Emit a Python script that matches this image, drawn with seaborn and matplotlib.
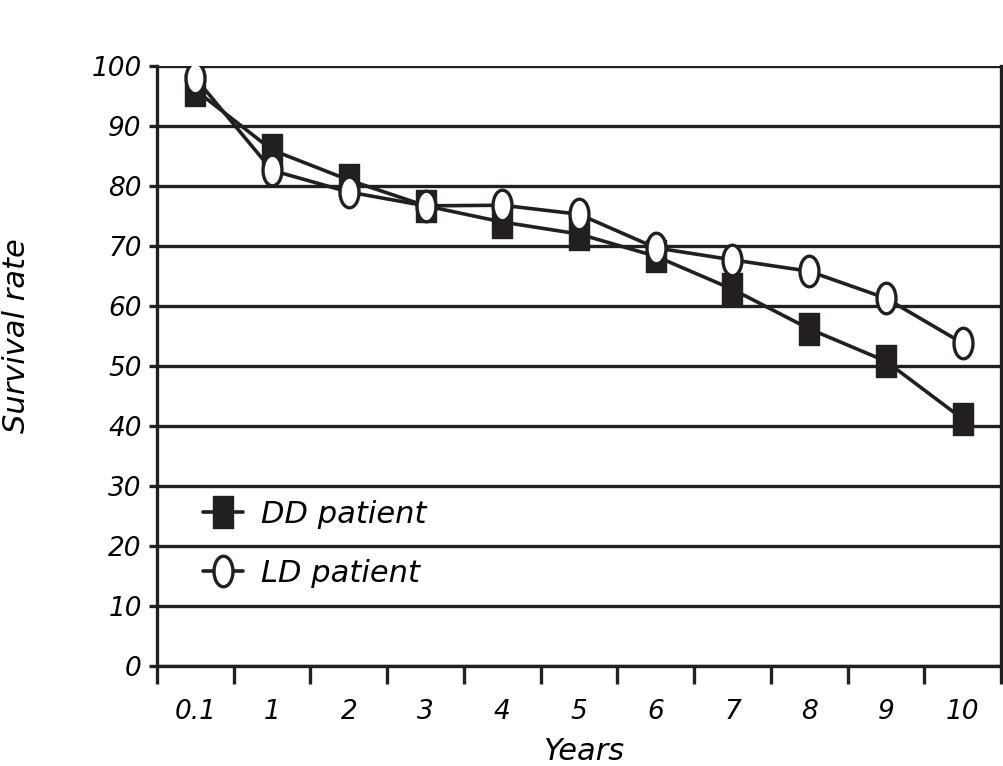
import numpy as np
import pandas as pd
import matplotlib
matplotlib.use("Agg")
import matplotlib.pyplot as plt
from matplotlib.path import Path
from matplotlib.transforms import Affine2D
import seaborn as sns

# survival data
years = ["0.1", "1", "2", "3", "4", "5", "6", "7", "8", "9", "10"]
dd_rate = [96, 86, 81, 76.7, 74, 72, 68.3, 62.8, 56.2, 50.8, 41.2]
ld_rate = [98, 82.6, 79, 76.7, 76.8, 75.3, 69.7, 67.7, 65.8, 61.3, 53.8]

ink = "#231f20"

sns.set_theme(style="white")
plt.rcParams["font.family"] = ["DejaVu Sans"]
plt.rcParams["font.style"] = "italic"
plt.rcParams["text.color"] = "black"
plt.rcParams["axes.labelcolor"] = "black"

# tall oval and tall rectangle markers
oval = Path.unit_circle().transformed(Affine2D().scale(0.62, 1.0))
rect = Path([(-0.62, -1), (0.62, -1), (0.62, 1), (-0.62, 1), (-0.62, -1)],
            [Path.MOVETO, Path.LINETO, Path.LINETO, Path.LINETO, Path.CLOSEPOLY])

df = pd.DataFrame({"year": years, "DD": dd_rate, "LD": ld_rate})

fig = plt.figure(figsize=(10.04, 7.66), dpi=100)
ax = fig.add_axes([0.1564, 0.1305, 0.8406, 0.7833])

sns.lineplot(data=df, x="year", y="DD", ax=ax, color=ink, lw=2.6,
             marker=rect, markersize=23, markerfacecolor=ink,
             markeredgecolor=ink, markeredgewidth=1, label="DD patient")
sns.lineplot(data=df, x="year", y="LD", ax=ax, color=ink, lw=2.6,
             marker=oval, markersize=22, markerfacecolor="white",
             markeredgecolor=ink, markeredgewidth=2.4, label="LD patient")

ax.set_ylim(0, 100)
ax.set_xlim(-0.5, len(years) - 0.5)
ax.set_yticks(np.arange(0, 101, 10))
ax.yaxis.grid(True, color=ink, lw=2.4)
ax.set_axisbelow(True)

# tick marks between categories, labels at the centres
ax.set_xticks(np.arange(-0.5, len(years), 1.0))
ax.set_xticklabels([])
ax.set_xticks(np.arange(len(years)), minor=True)
ax.set_xticklabels(years, minor=True)
ax.tick_params(axis="x", which="major", direction="out", length=13, width=2.4,
               color=ink, bottom=True)
ax.tick_params(axis="x", which="minor", length=0, pad=24, labelsize=19,
               labelcolor="black")
ax.tick_params(axis="y", direction="out", length=6, width=2.4, color=ink,
               left=True, labelsize=19, labelcolor="black", pad=5)

for s in ax.spines.values():
    s.set_color(ink)
    s.set_linewidth(2.4)
ax.spines["top"].set_visible(False)

ax.set_xlabel("Years", fontsize=22)
ax.xaxis.set_label_coords(0.505, -0.118)
ax.set_ylabel("Survival rate", fontsize=22)
ax.yaxis.set_label_coords(-0.149, 0.55)

ax.legend(loc="upper left", bbox_to_anchor=(0.055, 0.277), frameon=False,
          fontsize=22, handlelength=1.3, labelspacing=0.98,
          handletextpad=0.6, borderpad=0, borderaxespad=0,
          labelcolor="black")

fig.savefig("out.png", dpi=100)
